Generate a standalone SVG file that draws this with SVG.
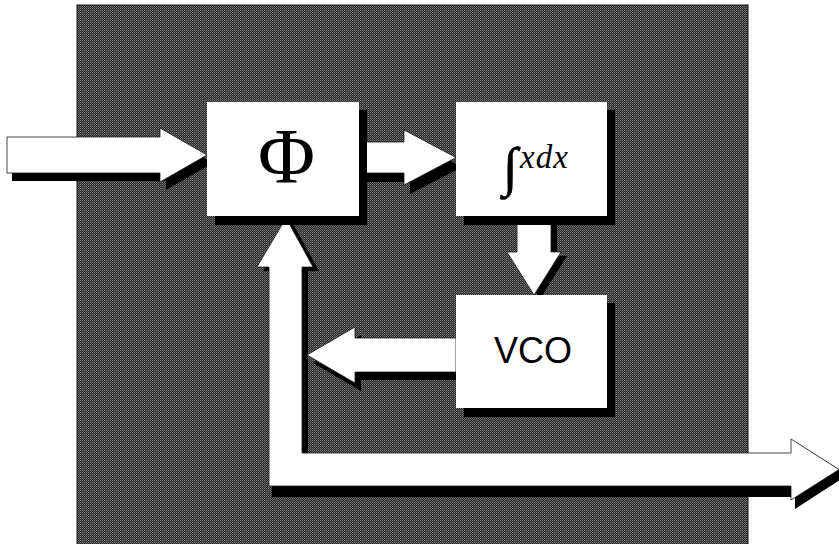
<svg xmlns="http://www.w3.org/2000/svg" width="839" height="544" viewBox="0 0 839 544">
  <defs>
    <pattern id="dither" width="2" height="2" patternUnits="userSpaceOnUse">
      <rect width="2" height="2" fill="#2c2c2c"/>
      <rect x="0" y="0" width="1" height="1" fill="#767676"/>
      <rect x="1" y="1" width="1" height="1" fill="#5a5a5a"/>
    </pattern>
  </defs>
  <style>
    .shadow { fill: #000000; }
    .box { fill: #ffffff; }
    .arrow { fill: #ffffff; stroke: #1a1a1a; stroke-width: 0.8; stroke-linejoin: miter; }
    .serif { font-family: "Liberation Serif", "Times New Roman", serif; fill: #000000; }
    .sans { font-family: "Liberation Sans", Arial, sans-serif; fill: #000000; }
  </style>

  <rect id="background" x="77" y="5" width="671" height="545" fill="url(#dither)" stroke="#111" stroke-width="1"/>

  <g id="connectors">
    <!-- shadows -->
    <polygon class="shadow" points="12,145 166,145 166,136 213,163 166,190 166,181 12,181"/>
    <polygon class="shadow" points="365,151 410,151 410,139 462,167 410,194 410,182 365,182"/>
    <polygon class="shadow" points="523,216 557,216 557,256 567,256 540,299 513,256 523,256"/>
    <polygon class="shadow" points="462,346 361,346 361,335 313,363 361,391 361,380 462,380"/>
    <polygon class="shadow" points="292,222 319,271 308,271 308,457 797,457 797,443 845,473 797,504 797,490 275,490 275,271 263,271"/>
    <rect class="shadow" x="272" y="486" width="525" height="11"/>
    <polygon class="shadow" points="795,448 843,478 795,509"/>

    <!-- arrows -->
    <polygon id="arrow-in" class="arrow" points="7,137 160,137 160,128 207,155 160,182 160,173 7,173"/>
    <polygon id="arrow-phi-int" class="arrow" points="359,142 404,142 404,130 456,157.5 404,185 404,173 359,173"/>
    <polygon id="arrow-int-vco" class="arrow" points="517,216 551,216 551,252 561,252 534,295 507,252 517,252"/>
    <polygon id="arrow-vco-loop" class="arrow" points="456,338 355,338 355,327 307,355 355,383 355,372 456,372"/>
    <polygon id="arrow-loop-out" class="arrow" points="286,218 313,267 302,267 302,453 791,453 791,439 839,469.5 791,500 791,486 269,486 269,267 257,267"/>
  </g>

  <g id="node-phi">
    <rect class="shadow" x="215" y="110" width="152" height="115"/>
    <rect class="box" x="207" y="102" width="152" height="114"/>
    <text class="serif" x="286.5" y="182" font-size="78" text-anchor="middle">Φ</text>
  </g>

  <g id="node-integral">
    <rect class="shadow" x="464" y="110" width="151" height="115"/>
    <rect class="box" x="456" y="102" width="151" height="114"/>
    <text class="serif" x="503" y="185" font-size="54" stroke="#000" stroke-width="0.6">∫</text>
    <text class="serif" x="520" y="168" font-size="33" font-style="italic" letter-spacing="1">xdx</text>
  </g>

  <g id="node-vco">
    <rect class="shadow" x="464" y="303" width="151" height="114"/>
    <rect class="box" x="456" y="295" width="151" height="113"/>
    <text class="sans" x="533" y="363" font-size="36" text-anchor="middle">VCO</text>
  </g>
</svg>
